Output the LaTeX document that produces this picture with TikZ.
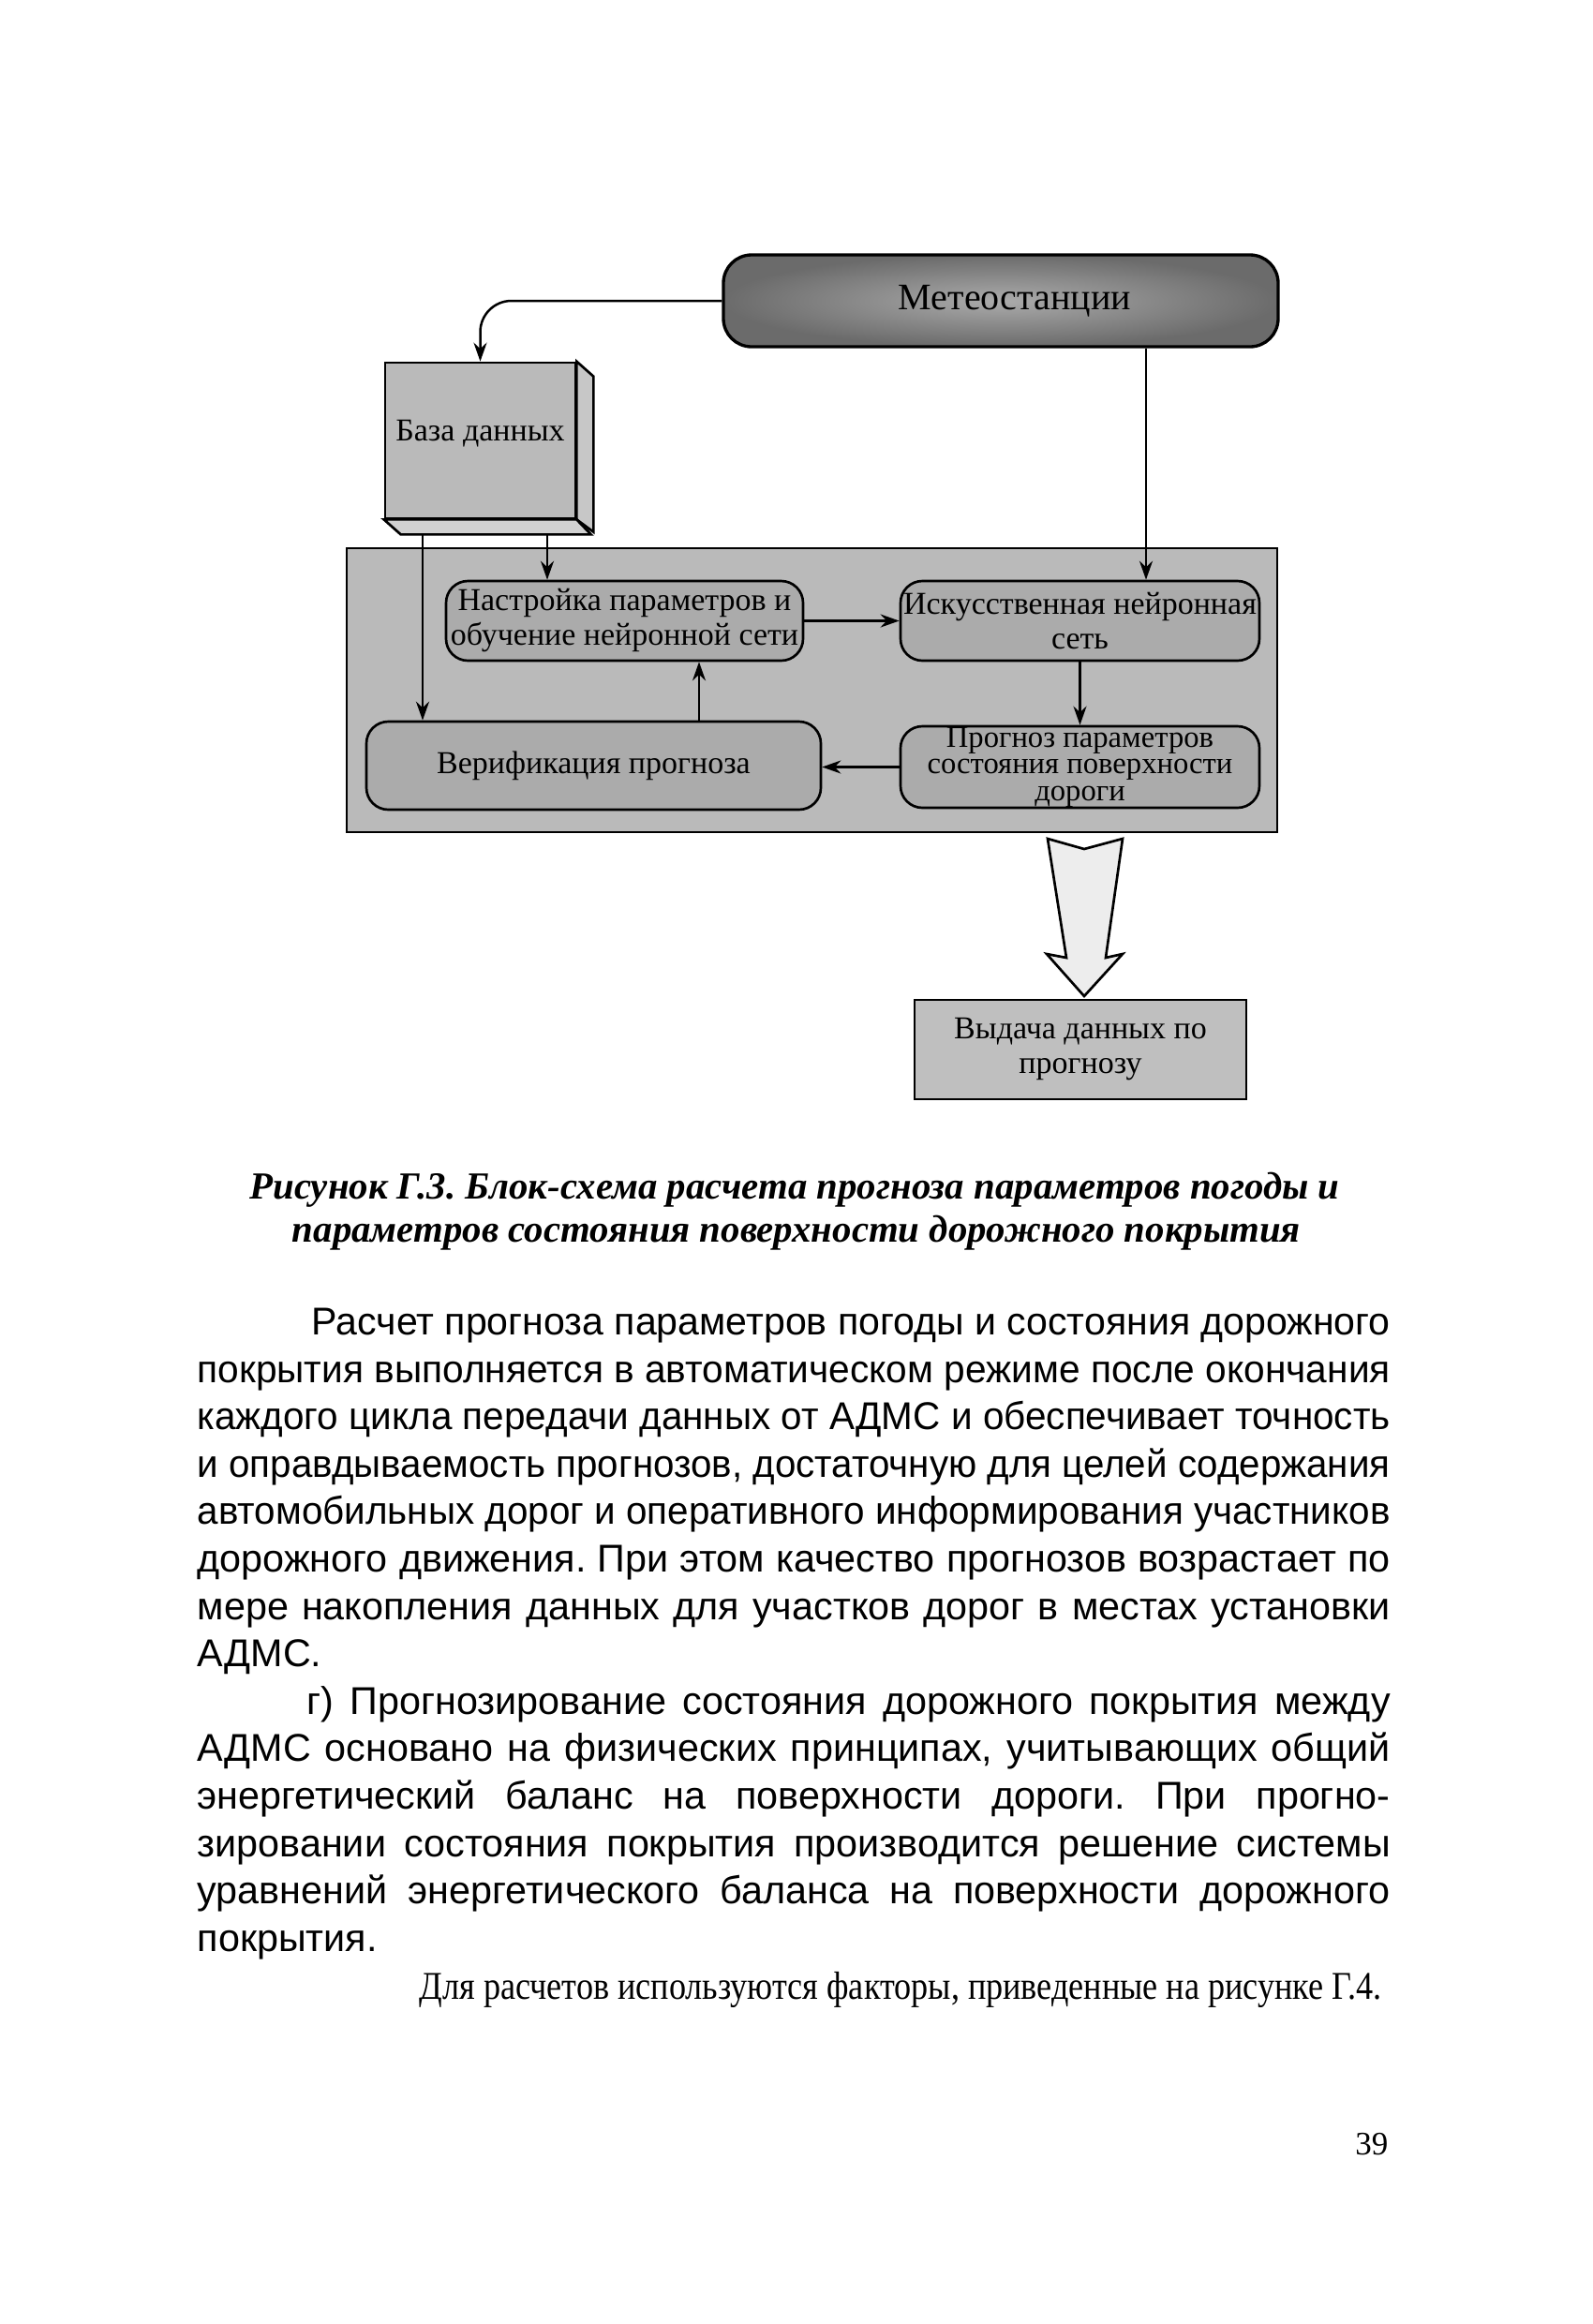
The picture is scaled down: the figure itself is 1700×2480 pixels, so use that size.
\documentclass[tikz,border=0pt]{standalone}
\usepackage{fontspec}
\setmainfont{Liberation Serif}
\newfontfamily\bodyfont{Liberation Sans}
\usetikzlibrary{arrows.meta}
\frenchspacing

% one line of justified text, squeezed if too long
\newsavebox\fitbox
\newcommand\fitline[2]{\sbox\fitbox{#2}\ifdim\wd\fitbox>#1\relax\resizebox{#1}{\height}{\usebox\fitbox}\else\makebox[#1][s]{#2}\fi}
\newcommand\dfont{\fontsize{10.2}{11.1}\selectfont}
\newcommand\pfont{\fontsize{12.4}{15}\selectfont}

\tikzset{
  blk/.style={draw, line width=0.8pt, rounded corners=7pt, fill=black!33, inner sep=0pt, align=center, font=\dfont},
  sqr/.style={draw, line width=0.8pt, fill=black!27, inner sep=0pt, align=center, font=\dfont},
  arr/.style={-{Stealth[length=6pt,width=4.2pt]}, line width=0.75pt},
  ln/.style={anchor=base west, inner sep=0pt, font=\bodyfont\pfont},
  capt/.style={inner sep=0pt, font=\bfseries\itshape\fontsize{12.25}{14}\selectfont},
}

\begin{document}
\begin{tikzpicture}[x=0.3pt, y=-0.3pt]
  \useasboundingbox[fill=white] (0,0) rectangle (1700,2480);

  % scheme
  \node[draw, line width=0.8pt, fill=black!27, minimum width=297.9pt, minimum height=90.9pt, inner sep=0pt] (grp) at (866.5,736.5) {};
  \node[draw, line width=1pt, rounded corners=9pt, inner color=black!33, outer color=black!58, minimum width=177.6pt, minimum height=29.4pt, inner sep=0pt, font=\fontsize{12}{13}\selectfont] (meteo) at (1068,321) {\hspace{9pt}Метеостанции};
  \node[sqr, minimum width=60.9pt, minimum height=49.8pt] (db) at (512.5,470) {База данных\\[-5pt]};
  \draw[line width=0.8pt, fill=black!22] (db.north east) -- ++(18,16) -- ++(0,166) -- (db.south east) -- cycle;
  \draw[line width=0.8pt, fill=black!18] (db.south west) -- ++(18,16) -- ++(203,0) -- (db.south east) -- cycle;
  \node[blk, minimum width=114.3pt, minimum height=25.5pt] (nastr) at (666.5,662.5) {Настройка параметров и\\обучение нейронной сети};
  \node[blk, minimum width=114.9pt, minimum height=25.5pt] (ann) at (1152.5,662.5) {Искусственная нейронная\\сеть};
  \node[blk, minimum width=145.5pt, minimum height=28.2pt] (verif) at (633.5,817) {Верификация прогноза};
  \node[blk, minimum width=114.9pt, minimum height=26.1pt, font=\fontsize{9.8}{8.6}\selectfont] (prog) at (1152.5,818.5) {Прогноз параметров\\состояния поверхности\\дороги};
  \node[sqr, fill=black!25, minimum width=106.2pt, minimum height=31.8pt] (vyd) at (1153,1120) {Выдача данных по\\прогнозу};

  \coordinate (mx) at (1223,0);
  \coordinate (dbl) at (451,569);
  \coordinate (dbr) at (584,569);
  \coordinate (vx) at (746,0);

  \draw[arr, rounded corners=10pt] (meteo.west) -| (db.north);
  \draw[arr] (meteo.south -| mx) -- (ann.north -| mx);
  \draw[arr] (dbl) -- (dbl |- verif.north);
  \draw[arr] (dbr) -- (dbr |- nastr.north);
  \draw[arr] (nastr.east) -- (ann.west);
  \draw[arr] (ann.south) -- (prog.north);
  \draw[arr] (prog.west) -- (prog.west -| verif.east);
  \draw[arr] (verif.north -| vx) -- (nastr.south -| vx);

  % hollow arrow to the output
  \draw[line width=0.8pt, fill=black!7, line join=miter]
    (1118,895) -- (1157,906) -- (1198,895) -- (1180,1022) -- (1198,1018)
    -- (1157,1063) -- (1117,1018) -- (1138,1022) -- cycle;

  % caption
  \node[capt] (cap1) at (848,1270) {Рисунок Г.3. Блок-схема расчета прогноза параметров погоды и};
  \node[capt] (cap2) at (850,1316) {параметров состояния поверхности дорожного покрытия};

  % text of the page
  \node[ln] (l1) at (332,1424) {\fitline{345.3pt}{Расчет прогноза параметров погоды и состояния дорожного}};
  \node[ln] (l2) at (210,1475) {\fitline{381.9pt}{покрытия выполняется в автоматическом режиме после окончания}};
  \node[ln] (l3) at (210,1525) {\fitline{381.9pt}{каждого цикла передачи данных от АДМС и обеспечивает точность}};
  \node[ln] (l4) at (210,1576) {\fitline{381.9pt}{и оправдываемость прогнозов, достаточную для целей содержания}};
  \node[ln] (l5) at (210,1626) {\fitline{381.9pt}{автомобильных дорог и оперативного информирования участников}};
  \node[ln] (l6) at (210,1677) {\fitline{381.9pt}{дорожного движения. При этом качество прогнозов возрастает по}};
  \node[ln] (l7) at (210,1728) {\fitline{381.9pt}{мере накопления данных для участков дорог в местах установки}};
  \node[ln] (l8) at (210,1778) {АДМС.};
  \node[ln] (l9) at (327,1829) {\fitline{346.8pt}{г) Прогнозирование состояния дорожного покрытия между}};
  \node[ln] (l10) at (210,1879) {\fitline{381.9pt}{АДМС основано на физических принципах, учитывающих общий}};
  \node[ln] (l11) at (210,1930) {\fitline{381.9pt}{энергетический баланс на поверхности дороги. При прогно-}};
  \node[ln] (l12) at (210,1981) {\fitline{381.9pt}{зировании состояния покрытия производится решение системы}};
  \node[ln] (l13) at (210,2031) {\fitline{381.9pt}{уравнений энергетического баланса на поверхности дорожного}};
  \node[ln] (l14) at (210,2082) {покрытия.};
  \node[ln, font=\fontsize{12.6}{15}\selectfont] (l15) at (447,2133) {\fitline{308.1pt}{Для расчетов используются факторы, приведенные на рисунке Г.4.}};

  \node[anchor=east, inner sep=0pt, font=\fontsize{10.5}{12}\selectfont] (pgno) at (1482,2288) {39};
\end{tikzpicture}
\end{document}
